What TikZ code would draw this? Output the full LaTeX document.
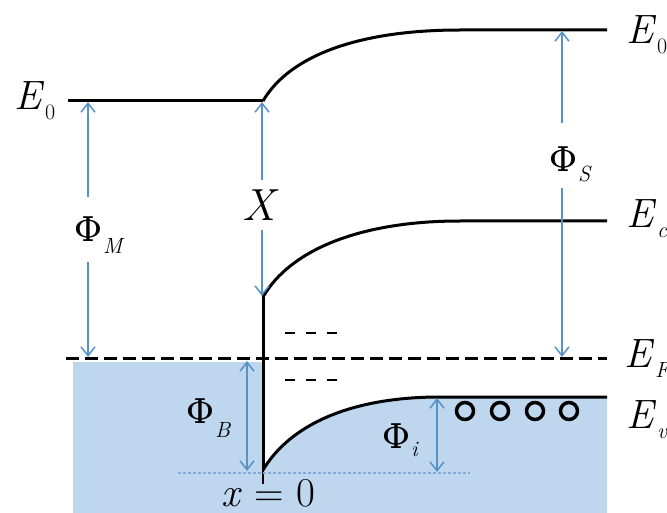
\documentclass[tikz,border=0pt]{standalone}
\usepackage{fontspec}
\newfontfamily\phifont{DejaVu Serif}
\usetikzlibrary{arrows.meta}
\definecolor{fillblue}{RGB}{190,215,238}
\definecolor{arrblue}{RGB}{86,145,200}
\definecolor{dotblue}{RGB}{130,170,215}
\newcommand{\lsub}[2][10pt]{\kern1pt\raisebox{-#1}{\fontsize{22}{22}\selectfont #2}}
\newcommand{\PHI}{{\phifont\fontsize{34}{34}\selectfont Φ}}
\tikzset{
  band/.style={line width=3pt, black},
  fermi/.style={line width=3pt, black, dash pattern=on 13pt off 6pt},
  trapdash/.style={line width=2.5pt, black, dash pattern=on 10pt off 11pt},
  dimline/.style={arrblue, line width=1.5pt},
  dimtip/.style={dimline, -{Straight Barb[length=9pt,width=14pt,line width=1.5pt]}},
  dimboth/.style={dimline, {Straight Barb[length=9pt,width=14pt,line width=1.5pt]}-{Straight Barb[length=9pt,width=14pt,line width=1.5pt]}},
  lbl/.style={inner sep=0pt, anchor=base west, font=\fontsize{41}{41}\selectfont},
  hole/.style={draw=black, line width=3.5pt},
}
\begin{document}
\begin{tikzpicture}[x=1pt,y=-1pt]
\useasboundingbox (0,0) rectangle (667,513);
% fill
\fill[fillblue] (73,362) -- (263,362) -- (263,470) .. controls (290,425) and (350,397) .. (440,397) -- (607,397) -- (607,513) -- (73,513) -- cycle;
% coordinates
\coordinate (e0l) at (68,101);
\coordinate (bend0) at (263,101);
\coordinate (e0r) at (460,30);
\coordinate (e0end) at (607,30);
\coordinate (ecs) at (263,297);
\coordinate (ecf) at (460,221);
\coordinate (ecend) at (607,221);
\coordinate (evs) at (263,470);
\coordinate (evf) at (440,397);
\coordinate (evend) at (607,397);
\coordinate (vbot) at (263,484);
\coordinate (efl) at (66,358);
\coordinate (efr) at (607,358);
% bands
\draw[band] (e0l) -- (bend0);
\draw[band] (bend0) .. controls (290,55) and (360,30) .. (e0r) -- (e0end);
\draw[band] (ecs) .. controls (290,250) and (360,221) .. (ecf) -- (ecend);
\draw[band] (evs) .. controls (290,425) and (350,397) .. (evf) -- (evend);
\draw[band] (263,296) -- (evs);
\draw[black, line width=1.5pt] (evs) -- (vbot);
\draw[fermi] (efl) -- (efr);
% trap levels
\coordinate (t1a) at (285,333); \coordinate (t1b) at (340,333);
\coordinate (t2a) at (285,380); \coordinate (t2b) at (340,380);
\draw[trapdash] (t1a) -- (t1b);
\draw[trapdash] (t2a) -- (t2b);
% dotted reference line
\coordinate (dla) at (178,473); \coordinate (dlb) at (470,473);
\draw[dotblue, line width=1.2pt, dash pattern=on 3pt off 2pt] (dla) -- (dlb);
% holes
\coordinate (h1) at (465,411);
\coordinate (h2) at (500,411);
\coordinate (h3) at (535,411);
\coordinate (h4) at (569,411);
\foreach \h in {h1,h2,h3,h4} \draw[hole] (\h) circle[radius=8.5pt];
% dimension arrows
\coordinate (mT) at (88,102); \coordinate (mA) at (88,197);
\coordinate (mB) at (88,262); \coordinate (mF) at (88,357);
\draw[dimtip] (mA) -- (mT);
\draw[dimtip] (mB) -- (mF);
\coordinate (xT) at (262,102); \coordinate (xA) at (262,180);
\coordinate (xB) at (262,230); \coordinate (xC) at (262,296);
\draw[dimtip] (xA) -- (xT);
\draw[dimtip] (xB) -- (xC);
\coordinate (sT) at (562,31); \coordinate (sA) at (562,123);
\coordinate (sB) at (562,188); \coordinate (sF) at (562,357);
\draw[dimtip] (sA) -- (sT);
\draw[dimtip] (sB) -- (sF);
\coordinate (bT) at (247,361); \coordinate (bB) at (247,471);
\draw[dimboth] (bT) -- (bB);
\coordinate (iT) at (437,398); \coordinate (iB) at (437,472);
\draw[dimboth] (iT) -- (iB);
% labels
\node[lbl] (lE0l) at (14,110) {\textit{E}\lsub[10pt]{0}};
\node[lbl] (lE0r) at (626,44) {\textit{E}\lsub[10pt]{0}};
\node[lbl] (lEc) at (626,228) {\textit{E}\lsub[10pt]{\textit{c}}};
\node[lbl] (lEF) at (624,367) {\textit{E}\lsub[10pt]{\textit{F}}};
\node[lbl] (lEv) at (626,428) {\textit{E}\lsub[10pt]{\textit{v}}};
\node[lbl] (lPM) at (74,242) {\PHI\lsub[12pt]{\textit{M}}};
\node[lbl, font=\fontsize{45}{45}\selectfont] (lX) at (242,221) {\textit{X}};
\node[lbl] (lPS) at (549,172) {\PHI\lsub[10pt]{\textit{S}}};
\node[lbl] (lPB) at (186,423) {\PHI\lsub[14pt]{\textit{B}}};
\node[lbl] (lPi) at (382,448) {\PHI\lsub[8pt]{\textit{i}}};
\node[lbl] (lx0) at (221,506) {\textit{x} = 0};
\end{tikzpicture}
\end{document}
